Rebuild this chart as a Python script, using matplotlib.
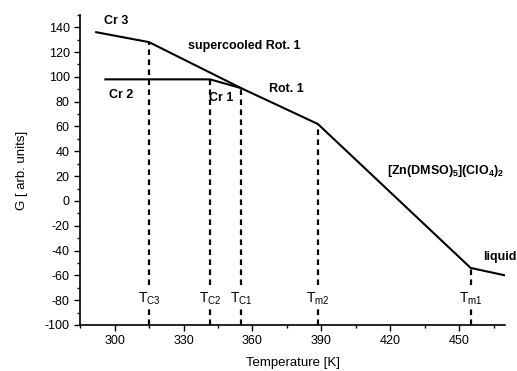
import numpy as np
import matplotlib.pyplot as plt

plt.rcParams['font.family'] = ['Liberation Sans', 'DejaVu Sans']
plt.rcParams['axes.unicode_minus'] = False
plt.rcParams['mathtext.fontset'] = 'custom'
plt.rcParams['mathtext.rm'] = 'Liberation Sans'
plt.rcParams['mathtext.bf'] = 'Liberation Sans:bold'

# ------------------------------------------------------------
# Data
# ------------------------------------------------------------

# upper branch: Cr 3 -> supercooled Rot. 1 -> Rot. 1 -> liquid
upper_T = [292, 315, 355, 388.5, 455, 470]
upper_G = [136, 128, 91, 62, -54, -60]

# Cr 2 branch, flat then joining at Tc1
cr2_T = [296, 341.5, 355]
cr2_G = [98, 98, 91]

# transition temperatures and the G where each dashed line stops
trans_T = [315, 341.5, 355, 388.5, 455]
trans_G = [128, 98, 91, 62, -54]
trans_sub = ["C3", "C2", "C1", "m2", "m1"]

phase_labels = ["Cr 3", "supercooled Rot. 1", "Cr 2", "Cr 1", "Rot. 1", "liquid"]
phase_T = [295.5, 332, 297.5, 341, 367, 460.3]
phase_G = [145, 125, 85, 83, 90, -45]

xticks = [300, 330, 360, 390, 420, 450]
yticks = list(range(-100, 141, 20))


# ------------------------------------------------------------
# Plot
# ------------------------------------------------------------

fig = plt.figure(figsize=(5.17, 3.71), dpi=100)
ax = fig.add_axes([0.155, 0.124, 0.822, 0.836])

ax.plot(upper_T, upper_G, color="black", lw=1.5)
ax.plot(cr2_T, cr2_G, color="black", lw=1.5)

for t, g in zip(trans_T, trans_G):
    ax.plot([t, t], [-100, g], color="black", lw=1.6, ls=(0, (2.5, 2)))

# T labels sit on the dashed lines and hide them
for t, s in zip(trans_T, trans_sub):
    ax.text(t, -79, r"T$_{\mathrm{%s}}$" % s, ha="center", va="center", fontsize=10,
            bbox=dict(facecolor="white", edgecolor="none", pad=1.0))

for lab, t, g in zip(phase_labels, phase_T, phase_G):
    ax.text(t, g, lab, ha="left", va="center", fontsize=9, fontweight="bold")

ax.text(418.5, 24, r"[Zn(DMSO)$_\mathbf{5}$](ClO$_\mathbf{4}$)$_\mathbf{2}$",
        ha="left", va="center", fontsize=9, fontweight="bold")

ax.set_xlim(290, 470)
ax.set_ylim(-100, 150)
ax.set_xticks(xticks)
ax.set_yticks(yticks)
ax.set_xticks(np.arange(285, 471, 15), minor=True)
ax.set_yticks(np.arange(-100, 151, 10), minor=True)
ax.tick_params(which="major", direction="out", length=4, width=1, labelsize=9)
ax.tick_params(which="minor", direction="out", length=2, width=1)

for side in ["top", "right"]:
    ax.spines[side].set_visible(False)
for side in ["left", "bottom"]:
    ax.spines[side].set_linewidth(1.2)

ax.set_xlabel("Temperature [K]", fontsize=9.5, labelpad=7)
ax.set_ylabel("G [ arb. units]", fontsize=9.5, labelpad=12)

fig.savefig("out.png", dpi=100)
